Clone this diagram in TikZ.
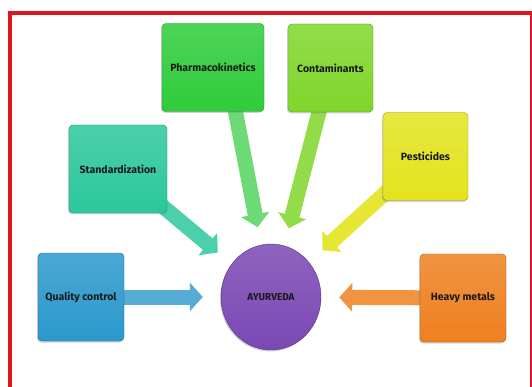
\documentclass[tikz,border=0pt]{standalone}
\usepackage{fontspec}
\setsansfont{Fira Sans}
\usepackage{tikz}
\usetikzlibrary{arrows.meta,shadows,backgrounds,shapes.geometric}

\definecolor{frame}{HTML}{E0161E}
\definecolor{qcblue}{HTML}{2A98CC}
\definecolor{stdteal}{HTML}{2CC79C}
\definecolor{pkgreen}{HTML}{2ECC3A}
\definecolor{conlime}{HTML}{7FD62A}
\definecolor{pesyellow}{HTML}{E3E31E}
\definecolor{hmorange}{HTML}{EE8020}
\definecolor{ayurpurple}{HTML}{7A48B4}

\begin{document}
\begin{tikzpicture}[x=1pt,y=-1pt,
  box/.style={rounded corners=4pt,draw=#1!70!black,top color=#1!85!white,bottom color=#1,
    minimum height=88pt,inner sep=1pt,text=black!90,
    font=\sffamily\bfseries\fontsize{10.5}{12}\selectfont,
    drop shadow={shadow xshift=-1pt,shadow yshift=-1.5pt,opacity=.35}},
  flow/.style={line width=15pt,draw=#1,-{Triangle[width=28pt,length=13pt]},shorten >=18pt}]
  \useasboundingbox (0,0) rectangle (532,387);
  \clip (0,0) rectangle (532,387);
  \draw[frame,line width=4pt] (10,13) rectangle (532,395);

  \node[box=qcblue,minimum width=86pt] (qc) at (81,297) {Quality control};
  \node[box=stdteal,minimum width=98pt] (std) at (118,169) {Standardization};
  \node[box=pkgreen,minimum width=102pt] (pk) at (213,67.5) {Pharmacokinetics};
  \node[box=conlime,minimum width=85pt] (con) at (330.5,68) {Contaminants};
  \node[box=pesyellow,minimum width=85pt] (pes) at (425.5,156.5) {Pesticides};
  \node[box=hmorange,minimum width=86pt] (hm) at (463,298) {Heavy metals};
  \node[ellipse,minimum width=100pt,minimum height=106pt,draw=ayurpurple!70!black,
    top color=ayurpurple!85!white,bottom color=ayurpurple,text=black!90,
    font=\sffamily\bfseries\fontsize{10}{12}\selectfont,
    drop shadow={shadow xshift=-1pt,shadow yshift=-1.5pt,opacity=.35}] (ayur) at (271,297) {AYURVEDA};

  \begin{scope}[on background layer]
    \fill[white] (0,0) rectangle (532,387);
    \draw[flow=qcblue!80!white] (qc.center) -- (ayur);
    \draw[flow=stdteal!85!white] (std.center) -- (ayur);
    \draw[flow=pkgreen!70!white] ([xshift=14pt]pk.center) -- (ayur);
    \draw[flow=conlime!85!white] (con.center) -- (ayur);
    \draw[flow=pesyellow!90!white] (pes.center) -- (ayur);
    \draw[flow=hmorange!85!white] (hm.center) -- (ayur);
  \end{scope}
\end{tikzpicture}
\end{document}
